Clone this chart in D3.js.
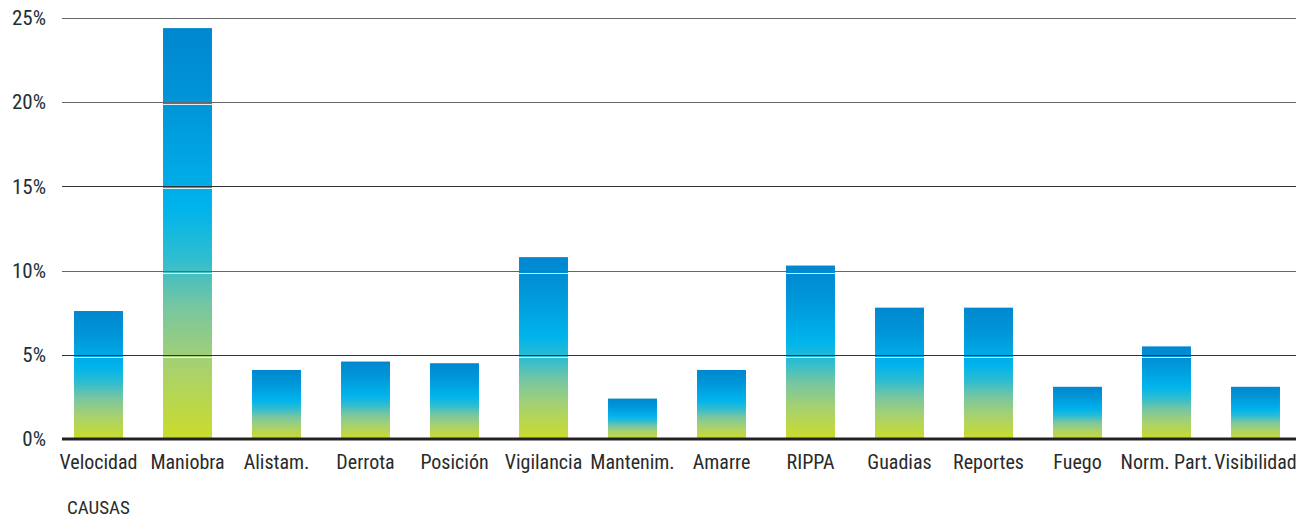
<!DOCTYPE html>
<html>
<head>
<meta charset="utf-8">
<script src="https://cdn.jsdelivr.net/npm/d3@7"></script>
<style>
  html, body { margin: 0; padding: 0; background: #fff; }
  svg { display: block; }
  text { font-family: "Roboto Condensed", "Liberation Sans Narrow", "Liberation Sans", sans-serif; }
</style>
</head>
<body>
<svg id="chart" width="1307" height="520"></svg>
<script>
// Causas de siniestros, porcentaje sobre el total
const categories = ["Velocidad", "Maniobra", "Alistam.", "Derrota", "Posición", "Vigilancia",
  "Mantenim.", "Amarre", "RIPPA", "Guadias", "Reportes", "Fuego", "Norm. Part.", "Visibilidad"];
const values = [7.6, 24.4, 4.1, 4.6, 4.5, 10.8, 2.4, 4.1, 10.3, 7.8, 7.8, 3.1, 5.5, 3.1];
const yTicks = [0, 5, 10, 15, 20, 25];
const axisTitle = "CAUSAS";

const svg = d3.select("#chart");
const margin = { left: 62, right: 11, top: 18, bottom: 81 };
const W = 1307, H = 520;

const x = d3.scaleBand()
  .domain(categories)
  .range([54, 1300])
  .paddingInner(0.45)
  .paddingOuter(0.225);

const y = d3.scaleLinear()
  .domain([0, 25])
  .range([H - margin.bottom, margin.top]);

// vertical gradient applied per bar: lime at the base, cyan mid, deep blue on top
const defs = svg.append("defs");
const grad = defs.append("linearGradient")
  .attr("id", "barGrad")
  .attr("x1", 0).attr("y1", 1).attr("x2", 0).attr("y2", 0);
[
  [0.00, "#cbdc2a"],
  [0.18, "#a7d170"],
  [0.32, "#78c6a0"],
  [0.44, "#2fbdd0"],
  [0.56, "#00b4ec"],
  [0.80, "#0097d9"],
  [1.00, "#0087cf"]
].forEach(([o, c]) => grad.append("stop").attr("offset", o).attr("stop-color", c));

// bars
svg.append("g")
  .selectAll("rect")
  .data(values)
  .join("rect")
  .attr("x", (d, i) => x(categories[i]))
  .attr("width", x.bandwidth())
  .attr("y", d => y(d))
  .attr("height", d => y(0) - y(d))
  .attr("fill", "url(#barGrad)");

// gridlines drawn over the bars, each with a thin white highlight underneath
const grid = svg.append("g");
yTicks.filter(t => t > 0).forEach(t => {
  const yy = Math.round(y(t)) + 0.5;
  grid.append("line")
    .attr("x1", margin.left).attr("x2", W - margin.right)
    .attr("y1", yy + 2).attr("y2", yy + 2)
    .attr("stroke", "#ffffff").attr("stroke-opacity", 0.85).attr("stroke-width", 1);
  grid.append("line")
    .attr("x1", margin.left).attr("x2", W - margin.right)
    .attr("y1", yy).attr("y2", yy)
    .attr("stroke", t % 10 === 5 && t !== 25 ? "#333" : "#666").attr("stroke-width", 1);
});

// baseline
svg.append("line")
  .attr("x1", margin.left).attr("x2", W - margin.right)
  .attr("y1", y(0)).attr("y2", y(0))
  .attr("stroke", "#222").attr("stroke-width", 3);

// y axis labels
const yAxis = d3.axisLeft(y).tickValues(yTicks).tickFormat(d => d + "%").tickSize(0).tickPadding(0);
const ya = svg.append("g").attr("transform", "translate(46,0)").call(yAxis);
ya.attr("font-family", null);
ya.select(".domain").remove();
ya.selectAll("text")
  .attr("font-size", 21)
  .attr("fill", "#1d3038");

// x axis labels
const xAxis = d3.axisBottom(x).tickSize(0).tickPadding(0);
const xa = svg.append("g").attr("transform", `translate(0,${y(0) + 16})`).call(xAxis);
xa.attr("font-family", null);
xa.select(".domain").remove();
xa.selectAll("text")
  .attr("font-size", 20)
  .attr("fill", "#2a2a2a");

// axis title
svg.append("text")
  .attr("x", 67)
  .attr("y", 514)
  .attr("font-size", 19)
  .attr("fill", "#2a2a2a")
  .text(axisTitle);
</script>
</body>
</html>
